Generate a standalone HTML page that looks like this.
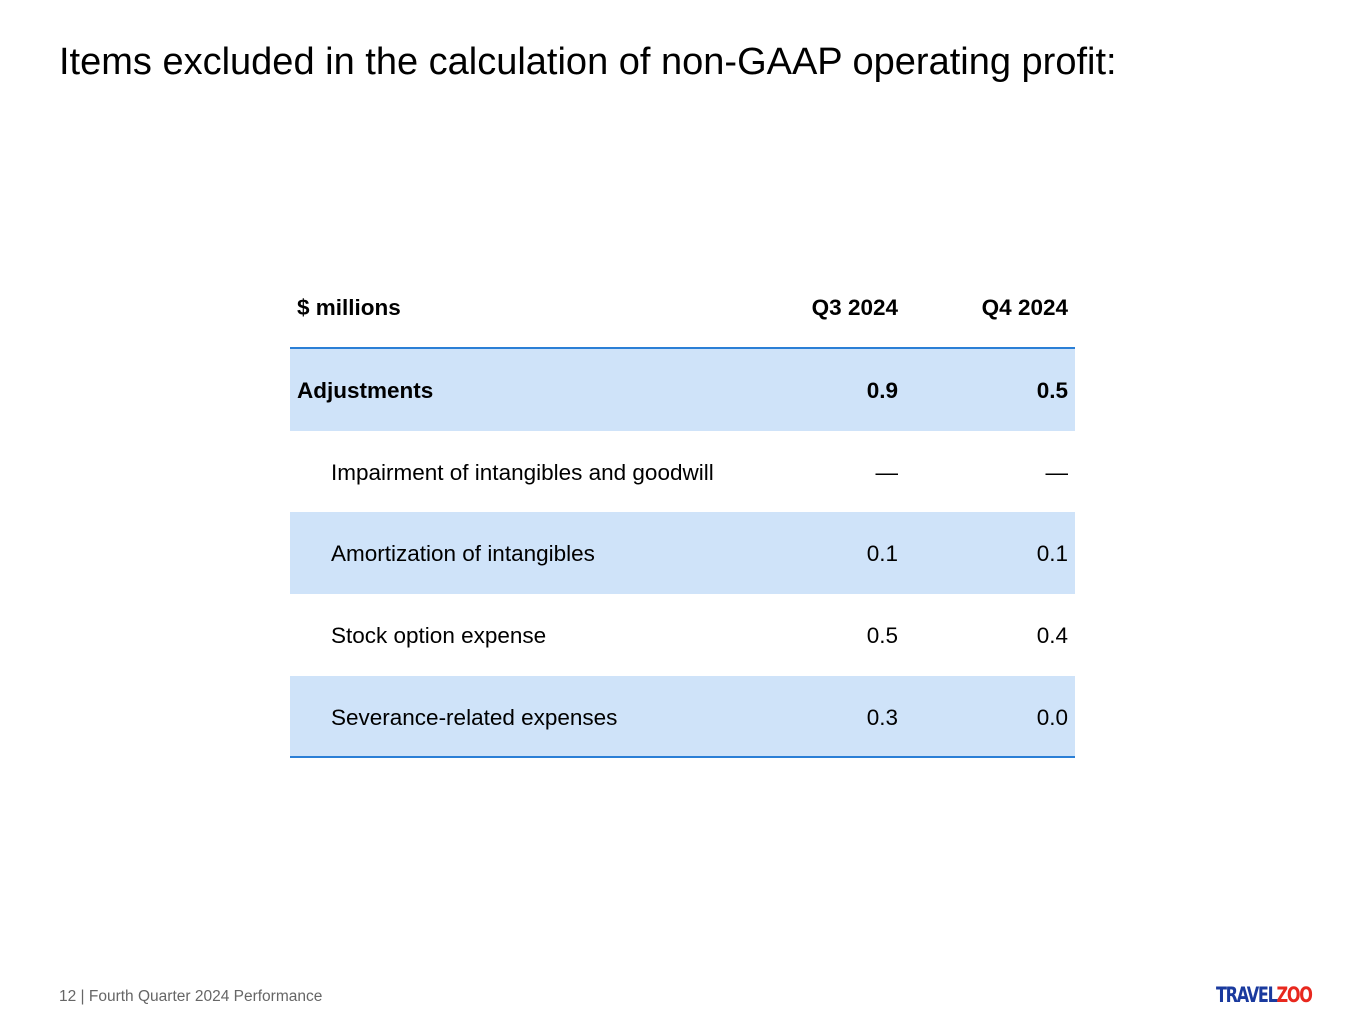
<!DOCTYPE html>
<html><head><meta charset="utf-8"><style>
body{margin:0;width:1365px;height:1024px;background:#fff;font-family:"Liberation Sans",sans-serif;position:relative;overflow:hidden;color:#000}
.t{position:absolute;left:59px;top:41px;font-size:38px;white-space:nowrap}
.row{position:absolute;left:290px;width:785px;height:82px;font-size:22.5px}
.row span{position:absolute;top:50%;transform:translateY(-46%);white-space:nowrap}
.l{left:7px}.ind{left:41px}.c1{right:177px}.c2{right:7px}
.b{font-weight:bold}.f{background:#cfe3f9}
.foot{position:absolute;left:59px;top:988px;font-size:15.5px;color:#666}
.logo{position:absolute;left:1216px;top:983px;font-size:21px;font-weight:bold;letter-spacing:-1.5px;font-family:"DejaVu Sans Condensed","DejaVu Sans",sans-serif;transform:scaleX(0.85);transform-origin:left}
</style></head><body>
<div class="t">Items excluded in the calculation of non-GAAP operating profit:</div>
<div>
<div class="row b" style="top:266px"><span class="l">$ millions</span><span class="c1">Q3 2024</span><span class="c2">Q4 2024</span></div>
<div style="position:absolute;left:290px;top:347px;width:785px;height:2px;background:#2b7fd6"></div>
<div class="row b f" style="top:349px"><span class="l">Adjustments</span><span class="c1">0.9</span><span class="c2">0.5</span></div>
<div class="row" style="top:431px"><span class="ind">Impairment of intangibles and goodwill</span><span class="c1">—</span><span class="c2">—</span></div>
<div class="row f" style="top:512px"><span class="ind">Amortization of intangibles</span><span class="c1">0.1</span><span class="c2">0.1</span></div>
<div class="row" style="top:594px"><span class="ind">Stock option expense</span><span class="c1">0.5</span><span class="c2">0.4</span></div>
<div class="row f" style="top:676px"><span class="ind">Severance-related expenses</span><span class="c1">0.3</span><span class="c2">0.0</span></div>
<div style="position:absolute;left:290px;top:756px;width:785px;height:2px;background:#2b7fd6"></div>
</div>
<div class="foot">12 | Fourth Quarter 2024 Performance</div>
<div class="logo"><span style="color:#1a3a9e">TRAVEL</span><span style="color:#e8281e">ZOO</span></div>
</body></html>
